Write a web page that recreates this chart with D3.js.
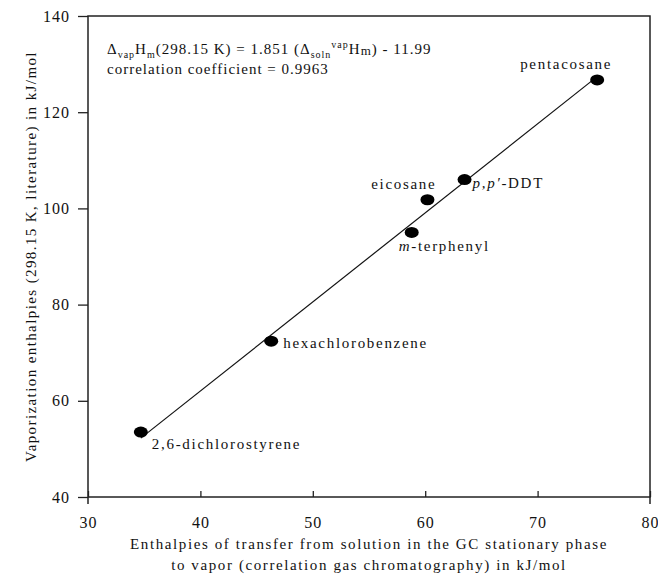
<!DOCTYPE html>
<html>
<head>
<meta charset="utf-8">
<script src="https://cdn.jsdelivr.net/npm/d3@7"></script>
<style>
    body { margin: 0; background: #fff; }
    svg { display: block; }
    text { font-family: "Liberation Serif", "DejaVu Serif", serif; fill: #111; }
</style>
</head>
<body>
<svg id="chart" width="658" height="575"></svg>
<script>
// data
const compounds = ["2,6-dichlorostyrene", "hexachlorobenzene", "m-terphenyl", "eicosane", "p,p'-DDT", "pentacosane"];
const transferEnthalpy = [34.7, 46.3, 58.8, 60.2, 63.5, 75.3];
const vaporEnthalpy = [53.5, 72.4, 95.0, 101.8, 106.0, 126.7];
const xTicks = [30, 40, 50, 60, 70, 80];
const yTicks = [40, 60, 80, 100, 120, 140];
// fitted line as printed on the chart
const fitSlope = 1.851;
const fitIntercept = -11.99;
const fitRange = [34.7, 75.3];

const svg = d3.select("#chart");
const margin = {left: 88, right: 8, top: 16, bottom: 78};
const width = 658 - margin.left - margin.right;
const height = 575 - margin.top - margin.bottom;

const x = d3.scaleLinear().domain([30, 80]).range([0, width]);
const y = d3.scaleLinear().domain([40, 140]).range([height, 0]);

const g = svg.append("g")
    .attr("transform", "translate(" + margin.left + "," + margin.top + ")");

// axes
const xAxis = g.append("g")
    .attr("transform", "translate(0," + height + ")")
    .call(d3.axisBottom(x).tickValues(xTicks).tickSize(-6).tickPadding(20));
const yAxis = g.append("g")
    .call(d3.axisLeft(y).tickValues(yTicks).tickSize(10).tickPadding(8));

[xAxis, yAxis].forEach(a => {
    a.select(".domain").remove();
    a.selectAll("line").attr("stroke", "#222").attr("stroke-width", 1.3);
    a.selectAll("text")
        .style("font-family", '"Liberation Serif", serif')
        .style("font-size", "16px")
        .style("letter-spacing", "1px")
        .attr("fill", "#111");
});

// frame, with the side lines running a bit past the bottom axis
g.append("rect")
    .attr("width", width).attr("height", height)
    .attr("fill", "none").attr("stroke", "#222").attr("stroke-width", 1.5);
g.selectAll(".stub").data([30, 80]).enter()
    .append("line")
    .attr("x1", d => x(d)).attr("x2", d => x(d))
    .attr("y1", height).attr("y2", height + 7)
    .attr("stroke", "#222").attr("stroke-width", 1.5);

// regression line
g.append("line")
    .attr("x1", x(fitRange[0])).attr("y1", y(fitSlope * fitRange[0] + fitIntercept))
    .attr("x2", x(fitRange[1])).attr("y2", y(fitSlope * fitRange[1] + fitIntercept))
    .attr("stroke", "#111").attr("stroke-width", 1.2);

const points = compounds.map((c, i) => ({name: c, x: transferEnthalpy[i], y: vaporEnthalpy[i]}));

g.selectAll(".pt").data(points).enter()
    .append("ellipse")
    .attr("class", "pt")
    .attr("cx", d => x(d.x)).attr("cy", d => y(d.y))
    .attr("rx", 7).attr("ry", 5.5)
    .attr("fill", "#000");

// label offsets relative to each point (dx, dy, anchor)
const labelPos = {
    "2,6-dichlorostyrene": [11, 17, "start"],
    "hexachlorobenzene": [12, 7, "start"],
    "m-terphenyl": [-13, 19, "start"],
    "eicosane": [9, -11, "end"],
    "p,p'-DDT": [8, 8, "start"],
    "pentacosane": [15, -11, "end"]
};

const labels = g.selectAll(".lbl").data(points).enter()
    .append("text")
    .attr("class", "lbl")
    .attr("x", d => x(d.x) + labelPos[d.name][0])
    .attr("y", d => y(d.y) + labelPos[d.name][1])
    .attr("text-anchor", d => labelPos[d.name][2])
    .style("font-size", "15px")
    .style("letter-spacing", "1.7px");

labels.each(function(d) {
    const t = d3.select(this);
    if (d.name === "m-terphenyl") {
        t.append("tspan").style("font-style", "italic").text("m");
        t.append("tspan").text("-terphenyl");
    } else if (d.name === "p,p'-DDT") {
        t.append("tspan").style("font-style", "italic").text("p,p\u2032");
        t.append("tspan").text("-DDT");
    } else {
        t.text(d.name);
    }
});

// equation
const eq = g.append("text")
    .attr("x", 19).attr("y", 38)
    .style("font-size", "15px")
    .style("letter-spacing", "1px");
eq.append("tspan").text("\u0394");
eq.append("tspan").attr("dy", 4).style("font-size", "10px").text("vap");
eq.append("tspan").attr("dy", -4).text("H");
eq.append("tspan").attr("dy", 4).style("font-size", "10px").text("m");
eq.append("tspan").attr("dy", -4).text("(298.15 K) = 1.851 (\u0394");
eq.append("tspan").attr("dy", 4).style("font-size", "10px").text("soln");
eq.append("tspan").attr("dy", -10).style("font-size", "10px").text("vap");
eq.append("tspan").attr("dy", 6).text("H");
eq.append("tspan").attr("dy", 1).style("font-size", "13px").text("m");
eq.append("tspan").attr("dy", -1).text(") - 11.99");

g.append("text")
    .attr("x", 19).attr("y", 58)
    .style("font-size", "15px")
    .style("letter-spacing", "1px")
    .text("correlation coefficient = 0.9963");

// axis titles
svg.append("text")
    .attr("x", margin.left + width / 2).attr("y", 549)
    .attr("text-anchor", "middle")
    .style("font-size", "15px").style("letter-spacing", "1.6px")
    .text("Enthalpies of transfer from solution in the GC stationary phase");
svg.append("text")
    .attr("x", margin.left + width / 2).attr("y", 570)
    .attr("text-anchor", "middle")
    .style("font-size", "15px").style("letter-spacing", "1.6px")
    .text("to vapor (correlation gas chromatography) in kJ/mol");

svg.append("text")
    .attr("transform", "translate(36," + (margin.top + height / 2) + ") rotate(-90)")
    .attr("text-anchor", "middle")
    .style("font-size", "15px").style("letter-spacing", "1.4px")
    .text("Vaporization enthalpies (298.15 K, literature) in kJ/mol");
</script>
</body>
</html>
